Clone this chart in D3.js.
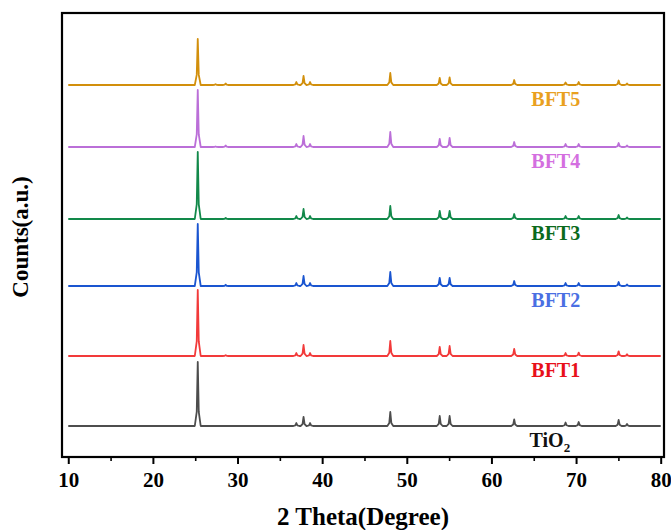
<!DOCTYPE html>
<html>
<head>
<meta charset="utf-8">
<script src="https://cdn.jsdelivr.net/npm/d3@7"></script>
<style>
  body { margin: 0; background: #fff; }
  text { font-family: "Liberation Serif", "Times New Roman", serif; font-weight: bold; }
</style>
</head>
<body>
<div id="chart"></div>
<script>
// peak positions (2 theta, degree), shared by all patterns
const peakPositions = [25.3, 27.4, 28.6, 36.95, 37.8, 38.57, 48.05, 53.89, 55.06, 62.69, 68.76, 70.31, 75.03, 76.02];

// sample names, bottom to top
const samples = ['TiO2', 'BFT1', 'BFT2', 'BFT3', 'BFT4', 'BFT5'];

// vertical offset of each pattern (a.u.)
const offsets = [31, 101, 171, 238, 310, 372];

// peak intensities per sample (a.u.), same order as peakPositions
const tio2Peaks = [64, 0, 0, 3, 9, 3, 14, 10, 10, 6.5, 3.5, 4, 6, 2];
const bft1Peaks = [66, 0, 0.8, 3, 11, 3, 15, 9, 10, 7, 3, 3.4, 4.7, 1.7];
const bft2Peaks = [62, 0, 1.2, 3, 10, 3, 14, 8, 8, 5, 3, 3, 4, 1.5];
const bft3Peaks = [67, 0, 1, 3, 10, 3, 13, 8, 8, 5, 3, 3, 4, 1.5];
const bft4Peaks = [57, 0.5, 1.5, 3, 11, 3, 15, 8, 9, 5, 3, 3, 4, 1.5];
const bft5Peaks = [46, 0.8, 1.5, 3, 9, 3, 12, 7, 7.5, 5, 2.5, 3, 4.5, 1.5];

const xTicks = [10, 20, 30, 40, 50, 60, 70, 80];

const lineColors = ['#4d4d4d', '#f23a3a', '#1a55d0', '#12894a', '#bb6fd8', '#d28f0c'];
const labelColors = ['#111111', '#e8101a', '#4a6fe3', '#0b6a1c', '#d46fe0', '#e9a020'];

const width = 671, height = 530;
const margin = {top: 13, right: 7, bottom: 73, left: 62};
const innerW = width - margin.left - margin.right;
const innerH = height - margin.top - margin.bottom;

const svg = d3.select('#chart').append('svg')
    .attr('width', width)
    .attr('height', height);

const g = svg.append('g')
    .attr('transform', `translate(${margin.left},${margin.top})`);

const x = d3.scaleLinear().domain([9.26, 80.39]).range([0, innerW]);
const y = d3.scaleLinear().domain([0, innerH]).range([innerH, 0]);

// turn the peak list into a polyline: flat baseline with a narrow spike at each peak
function pattern(heights, offset) {
  const pts = [[10, offset]];
  peakPositions.forEach((c, i) => {
    const h = heights[i];
    if (!h) return;
    pts.push([c - 0.35, offset], [c - 0.12, offset + h * 0.22], [c, offset + h],
             [c + 0.12, offset + h * 0.22], [c + 0.35, offset]);
  });
  pts.push([80, offset]);
  return pts;
}

const allPeaks = [tio2Peaks, bft1Peaks, bft2Peaks, bft3Peaks, bft4Peaks, bft5Peaks];
const series = samples.map((s, i) => ({name: s, points: pattern(allPeaks[i], offsets[i]), i}));

const line = d3.line()
    .x(d => x(d[0]))
    .y(d => y(d[1]));

g.selectAll('.trace')
  .data(series)
  .join('path')
    .attr('class', 'trace')
    .attr('fill', 'none')
    .attr('stroke', d => lineColors[d.i])
    .attr('stroke-width', 1.8)
    .attr('stroke-linejoin', 'round')
    .attr('d', d => line(d.points));

// sample labels, a little below each baseline
const labels = g.selectAll('.lbl')
  .data(series)
  .join('text')
    .attr('class', 'lbl')
    .attr('x', d => x(d.name === 'TiO2' ? 66.9 : 67.6))
    .attr('y', d => y(offsets[d.i]) + 21)
    .attr('text-anchor', 'middle')
    .attr('font-size', 20)
    .attr('fill', d => labelColors[d.i]);

labels.each(function(d) {
  const t = d3.select(this);
  if (d.name === 'TiO2') {
    t.append('tspan').text('TiO');
    t.append('tspan').attr('font-size', 13).attr('dy', 5).text('2');
  } else {
    t.text(d.name);
  }
});

// frame
g.append('rect')
    .attr('width', innerW)
    .attr('height', innerH)
    .attr('fill', 'none')
    .attr('stroke', '#000')
    .attr('stroke-width', 2.2);

// x axis: major ticks with labels, minor ticks at half steps
const xAxis = g.append('g')
    .attr('transform', `translate(0,${innerH})`)
    .call(d3.axisBottom(x).tickValues(xTicks).tickSize(7).tickSizeOuter(0).tickPadding(8));
xAxis.select('.domain').remove();
xAxis.selectAll('line').attr('stroke-width', 2);
xAxis.selectAll('text').attr('font-size', 21).attr('fill', '#000').style('font-family', '"Liberation Serif", serif');

const minor = g.append('g')
    .attr('transform', `translate(0,${innerH})`)
    .call(d3.axisBottom(x).tickValues(d3.range(15, 80, 10)).tickSize(4).tickFormat(''));
minor.select('.domain').remove();
minor.selectAll('line').attr('stroke-width', 1.6);

svg.append('text')
    .attr('x', margin.left + innerW / 2)
    .attr('y', 525)
    .attr('text-anchor', 'middle')
    .attr('font-size', 25)
    .text('2 Theta(Degree)');

svg.append('text')
    .attr('transform', `translate(28,${margin.top + innerH / 2 + 2}) rotate(-90)`)
    .attr('text-anchor', 'middle')
    .attr('font-size', 23)
    .text('Counts(a.u.)');
</script>
</body>
</html>
